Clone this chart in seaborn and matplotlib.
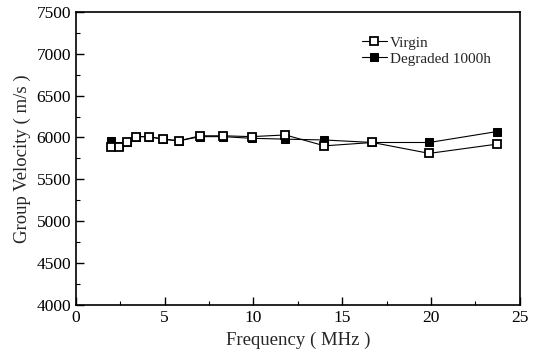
import matplotlib
matplotlib.use("Agg")
import matplotlib.pyplot as plt
import seaborn as sns
import pandas as pd
from matplotlib.ticker import MultipleLocator

freq = [2.0, 2.4, 2.9, 3.4, 4.1, 4.9, 5.8, 7.0, 8.3, 9.9, 11.8, 14.0, 16.7, 19.9, 23.7]
virgin = [5890, 5890, 5940, 6010, 6010, 5980, 5960, 6020, 6020, 6010, 6030, 5900, 5940, 5810, 5920]
degraded = [5960, 5900, 5940, 6010, 6010, 5980, 5960, 6010, 6010, 5990, 5980, 5970, 5940, 5940, 6070]
series_names = ["Virgin", "Degraded 1000h"]

sns.set_style("white")
plt.rcParams['font.family'] = ['Liberation Serif', 'DejaVu Serif']

df_v = pd.DataFrame({"Frequency": freq, "Velocity": virgin})
df_d = pd.DataFrame({"Frequency": freq, "Velocity": degraded})

fig = plt.figure(figsize=(5.5, 3.6), dpi=100)
ax = fig.add_axes([0.138, 0.153, 0.807, 0.814])

sns.lineplot(data=df_d, x="Frequency", y="Velocity", ax=ax, color="black", lw=0.8,
             marker="s", markersize=5.5, markerfacecolor="black", markeredgecolor="black",
             label=series_names[1], zorder=2)
sns.lineplot(data=df_v, x="Frequency", y="Velocity", ax=ax, color="black", lw=0.8,
             marker="s", markersize=5.5, markerfacecolor="white", markeredgecolor="black",
             markeredgewidth=1.3, label=series_names[0], zorder=3)

ax.set_xlim(0, 25)
ax.set_ylim(4000, 7500)
ax.xaxis.set_major_locator(MultipleLocator(5))
ax.xaxis.set_minor_locator(MultipleLocator(2.5))
ax.yaxis.set_major_locator(MultipleLocator(500))
ax.yaxis.set_minor_locator(MultipleLocator(250))
ax.tick_params(which="both", direction="in", bottom=True, left=True, top=False, right=False,
               labelsize=12.5, colors="black")
ax.tick_params(which="major", length=6, width=1)
ax.tick_params(which="minor", length=3, width=0.8)
for s in ax.spines.values():
    s.set_color("black")
    s.set_linewidth(1.2)

ax.set_xlabel("Frequency ( MHz )", fontsize=13.5, labelpad=4)
ax.set_ylabel("Group Velocity ( m/s )", fontsize=13.5, labelpad=4)

h, l = ax.get_legend_handles_labels()
order = [l.index(series_names[0]), l.index(series_names[1])]
ax.legend([h[i] for i in order], [l[i] for i in order], loc="upper right",
          bbox_to_anchor=(0.965, 0.965), frameon=False, fontsize=11, handlelength=1.6,
          handletextpad=0.2, labelspacing=0.15)

fig.savefig("out.png", dpi=100)
